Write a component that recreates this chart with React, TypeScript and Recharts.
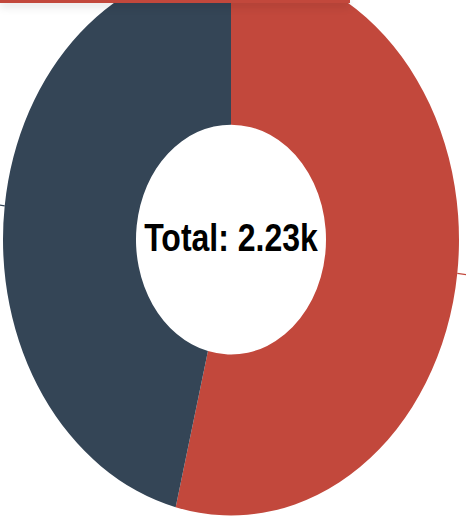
import { Cell, Label, Pie, PieChart } from 'recharts';

const names = ['Closed', 'Open'];
const values = [1202, 1028];
const colors = ['#c2483c', '#344556'];

const data = names.map((name, i) => ({ name, value: values[i] }));
const total = values.reduce((a, b) => a + b, 0);
const totalLabel = `Total: ${(total / 1000).toFixed(2)}k`;

const STRETCH = 1.21;
// pie centre, relative to the chart's default 5px margin
const CX = 226;
const CY = 193;

const CenterText = () => (
  <text
    x={CX + 5}
    y={CY + 4}
    textAnchor="middle"
    dominantBaseline="central"
    fill="#000"
    style={{ fontFamily: 'Liberation Sans, Arial, sans-serif', fontWeight: 700, fontSize: 32 }}
  >
    {totalLabel}
  </text>
);

// slice labels sit outside the crop; only their leader lines show
const NoLabel = () => <g />;

export default function App() {
  return (
    <div style={{ position: 'fixed', left: 0, top: 0, width: 466, height: 520, overflow: 'hidden', background: '#fff' }}>
      <div style={{ transform: `scale(1, ${STRETCH})`, transformOrigin: '0 0', width: 466, height: 430 }}>
        <PieChart width={466} height={430}>
          <Pie
            data={data}
            dataKey="value"
            nameKey="name"
            cx={CX}
            cy={CY}
            innerRadius={95}
            outerRadius={228}
            startAngle={90}
            endAngle={-270}
            stroke="none"
            label={NoLabel}
            labelLine={{ strokeWidth: 1 }}
            isAnimationActive={false}
          >
            {data.map((entry, index) => <Cell key={entry.name} fill={colors[index % colors.length]} />)}
            <Label position="center" content={CenterText} />
          </Pie>
        </PieChart>
      </div>
      <div
        style={{
          position: 'absolute',
          left: 0,
          top: 0,
          width: 350,
          height: 3,
          background: '#c2483c',
          boxShadow: '0 2px 10px rgba(0,0,0,0.25)',
        }}
      />
    </div>
  );
}
